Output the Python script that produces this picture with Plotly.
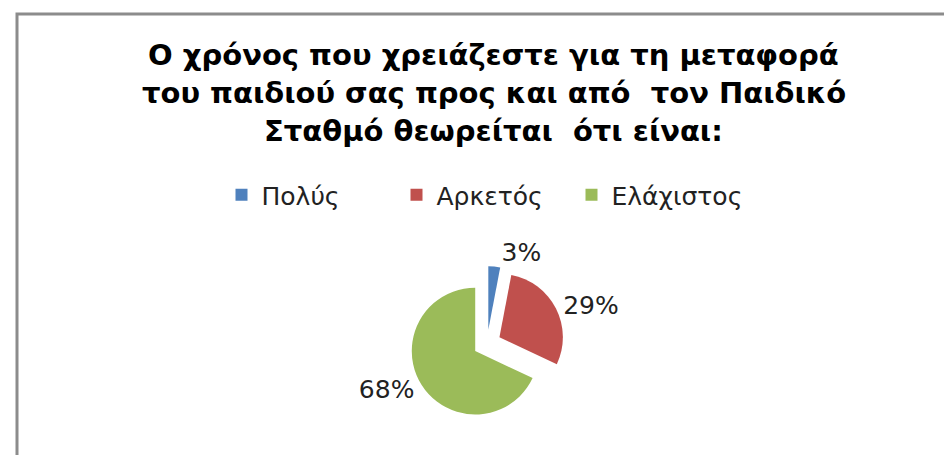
import plotly.graph_objects as go

categories = ["Πολύς", "Αρκετός", "Ελάχιστος"]
values = [3, 29, 68]
colors = ["#4F81BD", "#C0504D", "#9BBB59"]
title_lines = [
    "Ο χρόνος που χρειάζεστε για τη μεταφορά",
    "του παιδιού σας προς και από  τον Παιδικό",
    "Σταθμό θεωρείται  ότι είναι:",
]

W, H = 952, 455

fig = go.Figure()
fig.add_trace(go.Pie(
    labels=categories,
    values=values,
    marker=dict(colors=colors, line=dict(width=0)),
    sort=False,
    direction="clockwise",
    rotation=0,
    pull=[0.22, 0.22, 0.22],
    textinfo="percent",
    texttemplate="%{percent:.0%}",
    textposition="outside",
    textfont=dict(family="DejaVu Sans", size=25, color="#222222"),
    domain=dict(x=[0.4202, 0.5861], y=[0.0923, 0.4325]),
    hoverinfo="label+percent",
))

title_y = [47, 85, 123]
for line, yp in zip(title_lines, title_y):
    fig.add_annotation(
        text="<b>" + line + "</b>", x=486 / W, y=1 - yp / H,
        xref="paper", yref="paper", xanchor="center", yanchor="middle",
        showarrow=False,
        font=dict(family="DejaVu Sans", size=29, color="#000000"),
    )

fig.add_shape(type="rect", xref="paper", yref="paper",
              x0=9 / W, x1=1.05, y0=-0.05, y1=1 - 6 / H,
              line=dict(color="#8C8C8C", width=3))

fig.update_layout(
    width=W, height=H,
    margin=dict(l=0, r=0, t=0, b=0),
    paper_bgcolor="white",
    plot_bgcolor="white",
    showlegend=True,
    legend=dict(
        orientation="h", x=0.5, xanchor="center", y=1 - 187 / H, yanchor="middle",
        font=dict(family="DejaVu Sans", size=25, color="#222222"),
        entrywidth=130, entrywidthmode="pixels",
    ),
)

fig.write_html("out.html")
